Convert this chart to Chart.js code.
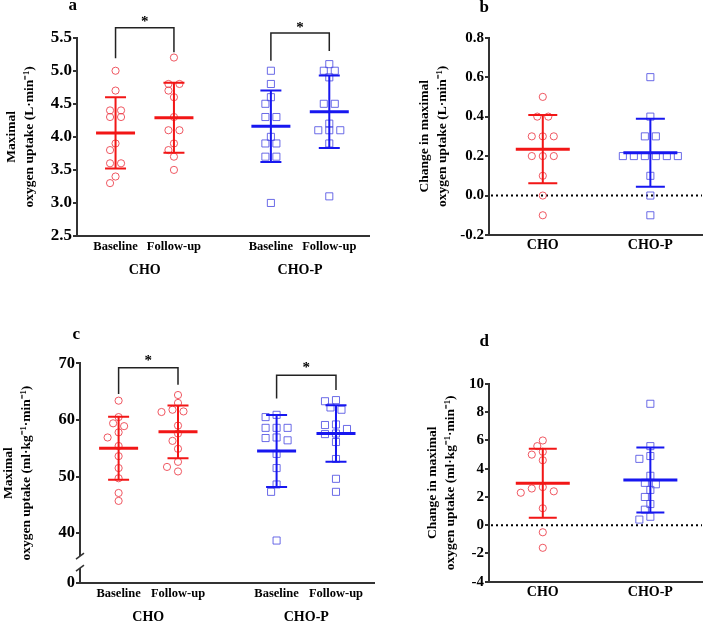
<!DOCTYPE html>
<html>
<head>
<meta charset="utf-8">
<script src="https://cdn.jsdelivr.net/npm/chart.js@4.4.0/dist/chart.umd.min.js"></script>
<style>
  body { margin: 0; background: #fff; }
  #wrap { position: relative; width: 708px; height: 624px; }
  .p { position: absolute; }
</style>
</head>
<body>
<div id="wrap">
  <div class="p" style="left:0;top:0;width:375px;height:300px"><canvas id="ca"></canvas></div>
  <div class="p" style="left:375px;top:0;width:333px;height:300px"><canvas id="cb"></canvas></div>
  <div class="p" style="left:0;top:300px;width:380px;height:324px"><canvas id="cc"></canvas></div>
  <div class="p" style="left:380px;top:300px;width:328px;height:324px"><canvas id="cd"></canvas></div>
</div>
<script>
// ---- data ----
const groups = ['CHO', 'CHO-P'];
const timeLabels = ['Baseline', 'Follow-up', 'Baseline', 'Follow-up'];

// a: maximal oxygen uptake (L/min)
const choBaseA    = [5.0, 4.7, 4.4, 4.4, 4.3, 4.3, 3.9, 3.8, 3.6, 3.6, 3.4, 3.3];
const choFollowA  = [5.2, 4.8, 4.8, 4.7, 4.6, 4.3, 4.1, 4.1, 3.9, 3.8, 3.7, 3.5];
const chopBaseA   = [5.0, 4.8, 4.6, 4.5, 4.3, 4.3, 4.0, 3.9, 3.9, 3.7, 3.7, 3.0];
const chopFollowA = [5.1, 5.0, 5.0, 4.9, 4.5, 4.5, 4.2, 4.1, 4.1, 4.1, 3.9, 3.1];
const meansA = [4.06, 4.29, 4.16, 4.38];
const sdsA   = [0.54, 0.53, 0.54, 0.55];
const yTicksA = [2.5, 3.0, 3.5, 4.0, 4.5, 5.0, 5.5];

// b: change in maximal oxygen uptake (L/min)
const choChangeB  = [0.5, 0.4, 0.4, 0.3, 0.3, 0.3, 0.2, 0.2, 0.2, 0.1, 0.0, -0.1];
const chopChangeB = [0.6, 0.4, 0.3, 0.3, 0.2, 0.2, 0.2, 0.2, 0.2, 0.2, 0.1, 0.0, -0.1];
const meansB = [0.235, 0.217];
const sdsB   = [0.173, 0.172];
const yTicksB = [-0.2, 0.0, 0.2, 0.4, 0.6, 0.8];

// c: maximal oxygen uptake (ml/kg/min)
const choBaseC    = [63.4, 60.5, 59.4, 58.9, 57.8, 56.9, 55.4, 53.6, 51.5, 49.7, 47.1, 45.7];
const choFollowC  = [64.4, 63.0, 61.8, 61.5, 61.4, 59.0, 57.6, 56.3, 54.9, 52.6, 51.7, 50.9];
const chopBaseC   = [60.9, 60.5, 58.6, 58.6, 58.6, 56.9, 56.8, 56.4, 54.0, 51.5, 48.6, 47.3, 38.7];
const chopFollowC = [63.5, 63.3, 62.2, 61.8, 59.2, 59.1, 58.4, 57.6, 57.5, 56.1, 53.1, 49.6, 47.3];
const meansC = [55.0, 57.9, 54.5, 57.6];
const sdsC   = [5.55, 4.65, 6.35, 5.0];
const yTicksC = [0, 40, 50, 60, 70];
const axisFloorC = 31.2;   // value where the broken axis shows "0"

// d: change in maximal oxygen uptake (ml/kg/min)
const choChangeD  = [6.0, 5.6, 5.2, 5.0, 4.6, 2.7, 2.6, 2.4, 2.3, 1.2, -0.5, -1.6];
const chopChangeD = [8.6, 5.6, 4.9, 4.7, 3.5, 3.0, 2.9, 2.5, 2.0, 1.5, 1.1, 0.6, 0.4];
const meansD = [2.97, 3.2];
const sdsD   = [2.44, 2.3];
const yTicksD = [-4, -2, 0, 2, 4, 6, 8, 10];

// ---- style ----
const RED = '#f21616', BLUE = '#1717f0';
const RED_PT = 'rgba(236,60,72,0.85)', BLUE_PT = 'rgba(70,70,225,0.8)';

Chart.defaults.font.family = '"Liberation Serif", "Times New Roman", serif';
Chart.defaults.font.weight = 'bold';
Chart.defaults.color = '#000';
Chart.defaults.animation = false;
Chart.defaults.plugins.legend.display = false;
Chart.defaults.plugins.tooltip.enabled = false;

// spread points sharing a height sideways (like a column scatter)
function swarm(ys, step, minDist) {
  const order = ys.map((y, i) => i).sort((a, b) => ys[a] - ys[b]);
  const off = ys.map(() => 0);
  const placed = [];
  order.forEach(i => {
    for (let k = 0; k < 40; k++) {
      const c = k === 0 ? 0 : (k % 2 ? -1 : 1) * Math.ceil(k / 2) * step;
      if (placed.every(j => Math.hypot(off[j] - c, ys[j] - ys[i]) >= minDist)) { off[i] = c; break; }
    }
    placed.push(i);
  });
  const rows = {};
  ys.forEach((y, i) => { const k = y.toFixed(1); (rows[k] = rows[k] || []).push(i); });
  Object.values(rows).forEach(r => {
    if (r.length > 1) {
      const m = r.reduce((s, i) => s + off[i], 0) / r.length;
      r.forEach(i => { off[i] -= m; });
    }
  });
  return off;
}

const decor = {
  id: 'decor',
  afterDatasetsUpdate(chart, args, o) {
    chart.data.datasets.forEach((ds, i) => {
      const els = chart.getDatasetMeta(i).data;
      const off = swarm(els.map(e => e.y), 5.5, 7.5);
      els.forEach((e, k) => { e.x += off[k]; });
    });
  },
  beforeDatasetsDraw(chart, args, o) {
    if (!o.zeroLine) return;
    const { ctx, chartArea, scales: { y } } = chart;
    const yz = y.getPixelForValue(0);
    ctx.save();
    ctx.setLineDash([2, 3]);
    ctx.lineWidth = 2;
    ctx.strokeStyle = '#000';
    ctx.beginPath(); ctx.moveTo(chartArea.left + 2, yz); ctx.lineTo(chartArea.right, yz); ctx.stroke();
    ctx.restore();
  },
  afterDatasetsDraw(chart, args, o) {
    const { ctx, scales: { x, y } } = chart;
    ctx.save();
    o.means.forEach((m, i) => {
      const px = x.getPixelForValue(o.xPos[i]);
      const ym = y.getPixelForValue(m);
      const yt = y.getPixelForValue(m + o.sds[i]);
      const yb = y.getPixelForValue(m - o.sds[i]);
      ctx.strokeStyle = o.colors[i];
      ctx.lineWidth = 2;
      ctx.beginPath();
      ctx.moveTo(px, yt); ctx.lineTo(px, yb);
      ctx.moveTo(px - o.capHalf, yt); ctx.lineTo(px + o.capHalf, yt);
      ctx.moveTo(px - o.capHalf, yb); ctx.lineTo(px + o.capHalf, yb);
      ctx.stroke();
      ctx.lineWidth = 3;
      ctx.beginPath(); ctx.moveTo(px - o.meanHalf, ym); ctx.lineTo(px + o.meanHalf, ym); ctx.stroke();
    });
    ctx.restore();
  },
  afterDraw(chart, args, o) {
    const { ctx, chartArea, scales: { x, y } } = chart;
    ctx.save();
    (o.brackets || []).forEach(b => {
      const x1 = x.getPixelForValue(o.xPos[b.i1]), x2 = x.getPixelForValue(o.xPos[b.i2]);
      const yy = y.getPixelForValue(b.y);
      ctx.strokeStyle = '#222';
      ctx.lineWidth = 1.5;
      ctx.beginPath();
      ctx.moveTo(x1, y.getPixelForValue(b.yL)); ctx.lineTo(x1, yy);
      ctx.lineTo(x2, yy); ctx.lineTo(x2, y.getPixelForValue(b.yR));
      ctx.stroke();
      ctx.fillStyle = '#000';
      ctx.font = 'bold 15px "Liberation Serif"';
      ctx.textAlign = 'center';
      ctx.textBaseline = 'middle';
      ctx.fillText('*', (x1 + x2) / 2, y.getPixelForValue(b.star));
    });
    if (o.axisBreak != null) {
      const yb = y.getPixelForValue(o.axisBreak), xb = chartArea.left;
      ctx.fillStyle = '#fff';
      ctx.fillRect(xb - 3, yb - 6, 6, 12);
      ctx.strokeStyle = '#333';
      ctx.lineWidth = 1.5;
      [-6, 6].forEach(d => {
        ctx.beginPath(); ctx.moveTo(xb - 4, yb + d + 3); ctx.lineTo(xb + 4, yb + d - 3); ctx.stroke();
      });
    }
    ctx.fillStyle = '#000';
    ctx.font = 'bold 17px "Liberation Serif"';
    ctx.textAlign = 'right';
    ctx.textBaseline = 'middle';
    ctx.fillText(o.letter, chartArea.left, o.letterY);
    ctx.restore();
  }
};

function makePanel(id, p) {
  const datasets = p.series.map((vals, i) => ({
    data: vals.map(v => ({ x: p.xPos[i], y: v })),
    pointStyle: p.styles[i],
    pointRadius: p.styles[i] === 'rect' ? 5 : 3.6,
    borderWidth: 1,
    borderColor: p.ptColors[i],
    backgroundColor: 'rgba(0,0,0,0)'
  }));
  const scales = {
    x: {
      type: 'linear', position: 'bottom', weight: 0, min: p.xMin, max: p.xMax,
      afterBuildTicks: ax => { ax.ticks = p.xPos.map(v => ({ value: v })); },
      afterFit: ax => { ax.height = p.xH; },
      grid: { display: false, drawTicks: false },
      border: { color: '#333', width: 2 },
      ticks: { autoSkip: false, maxRotation: 0, padding: p.xPad, font: { size: p.xFont },
        callback: (v, i) => p.xLabels[i] }
    },
    y: {
      type: 'linear', position: 'left', min: p.yMin, max: p.yMax,
      afterBuildTicks: ax => { ax.ticks = p.yTicks.map(v => ({ value: p.yMap ? p.yMap(v) : v })); },
      afterFit: ax => { ax.width = p.yW; },
      grid: { drawOnChartArea: false, drawTicks: true, tickLength: 4, color: '#333', lineWidth: 2 },
      border: { color: '#333', width: 2 },
      ticks: { padding: 1, font: { size: p.yFont }, callback: (v, i) => p.yFmt(p.yTicks[i]) },
      title: { display: true, text: p.yTitle, font: { size: 13.5, weight: 'bold', lineHeight: 1.33 },
        padding: { top: p.titlePad, bottom: 0 } }
    }
  };
  if (p.groupPos) {
    scales.x2 = {
      type: 'linear', position: 'bottom', weight: 1, min: p.xMin, max: p.xMax,
      afterBuildTicks: ax => { ax.ticks = p.groupPos.map(v => ({ value: v })); },
      afterFit: ax => { ax.height = p.x2H; },
      grid: { display: false, drawTicks: false },
      border: { display: false },
      ticks: { autoSkip: false, maxRotation: 0, padding: p.x2Pad, font: { size: 14 },
        callback: (v, i) => groups[i] }
    };
  }
  return new Chart(document.getElementById(id), {
    type: 'scatter',
    data: { datasets },
    options: {
      responsive: true,
      maintainAspectRatio: false,
      layout: { padding: { top: p.padTop, right: 3, left: 0, bottom: 0 } },
      scales,
      plugins: {
        decor: {
          letter: p.letter, letterY: p.letterY, xPos: p.xPos,
          means: p.means, sds: p.sds, colors: p.lineColors,
          meanHalf: p.meanHalf, capHalf: p.capHalf,
          brackets: p.brackets, zeroLine: p.zeroLine, axisBreak: p.axisBreak
        }
      }
    },
    plugins: [decor]
  });
}

const fourPos = [1, 2, 3.66, 4.66];
const twoPos = [1, 2];

makePanel('ca', {
  letter: 'a', letterY: 6, padTop: 37.7,
  series: [choBaseA, choFollowA, chopBaseA, chopFollowA],
  styles: ['circle', 'circle', 'rect', 'rect'],
  ptColors: [RED_PT, RED_PT, BLUE_PT, BLUE_PT],
  lineColors: [RED, RED, BLUE, BLUE],
  means: meansA, sds: sdsA, meanHalf: 19.5, capHalf: 10.5,
  xPos: fourPos, xMin: 0.34, xMax: 5.34, xLabels: timeLabels, xFont: 12.5, xPad: 3, xH: 20,
  groupPos: [1.5, 4.16], x2H: 44, x2Pad: 6,
  yMin: 2.5, yMax: 5.5, yTicks: yTicksA, yFmt: v => v.toFixed(1), yFont: 17, yW: 77,
  yTitle: ['Maximal', 'oxygen uptake (L·min⁻¹)'], titlePad: 3,
  brackets: [
    { i1: 0, i2: 1, y: 5.65, yL: 5.19, yR: 5.28, star: 5.74 },
    { i1: 2, i2: 3, y: 5.57, yL: 5.15, yR: 5.30, star: 5.65 }
  ]
});

makePanel('cb', {
  letter: 'b', letterY: 8, padTop: 37.7,
  series: [choChangeB, chopChangeB],
  styles: ['circle', 'rect'],
  ptColors: [RED_PT, BLUE_PT],
  lineColors: [RED, BLUE],
  means: meansB, sds: sdsB, meanHalf: 27, capHalf: 14.5,
  xPos: twoPos, xMin: 0.5, xMax: 2.48, xLabels: groups, xFont: 14, xPad: 2, xH: 65,
  yMin: -0.2, yMax: 0.8, yTicks: yTicksB, yFmt: v => v.toFixed(1), yFont: 15, yW: 114,
  yTitle: ['Change in maximal', 'oxygen uptake (L·min⁻¹)'], titlePad: 41,
  zeroLine: true
});

makePanel('cc', {
  letter: 'c', letterY: 35, padTop: 63.3,
  series: [choBaseC, choFollowC, chopBaseC, chopFollowC],
  styles: ['circle', 'circle', 'rect', 'rect'],
  ptColors: [RED_PT, RED_PT, BLUE_PT, BLUE_PT],
  lineColors: [RED, RED, BLUE, BLUE],
  means: meansC, sds: sdsC, meanHalf: 19.5, capHalf: 10.5,
  xPos: fourPos, xMin: 0.35, xMax: 5.3, xLabels: timeLabels, xFont: 12.5, xPad: 3.5, xH: 21,
  groupPos: [1.5, 4.16], x2H: 20, x2Pad: 4.5,
  yMin: axisFloorC, yMax: 70, yTicks: yTicksC, yMap: v => (v === 0 ? axisFloorC : v),
  yFmt: v => String(v), yFont: 16.5, yW: 80,
  yTitle: ['Maximal', 'oxygen uptake (ml·kg⁻¹·min⁻¹)'], titlePad: 0,
  axisBreak: 34.9,
  brackets: [
    { i1: 0, i2: 1, y: 69.2, yL: 64.6, yR: 66.2, star: 70.4 },
    { i1: 2, i2: 3, y: 67.9, yL: 63.8, yR: 65.3, star: 69.2 }
  ]
});

makePanel('cd', {
  letter: 'd', letterY: 41.7, padTop: 84,
  series: [choChangeD, chopChangeD],
  styles: ['circle', 'rect'],
  ptColors: [RED_PT, BLUE_PT],
  lineColors: [RED, BLUE],
  means: meansD, sds: sdsD, meanHalf: 27, capHalf: 14,
  xPos: twoPos, xMin: 0.5, xMax: 2.48, xLabels: groups, xFont: 14, xPad: 2.5, xH: 42.3,
  yMin: -4, yMax: 10, yTicks: yTicksD, yFmt: v => String(v), yFont: 15, yW: 109,
  yTitle: ['Change in maximal', 'oxygen uptake (ml·kg⁻¹·min⁻¹)'], titlePad: 44,
  zeroLine: true
});
</script>
</body>
</html>
